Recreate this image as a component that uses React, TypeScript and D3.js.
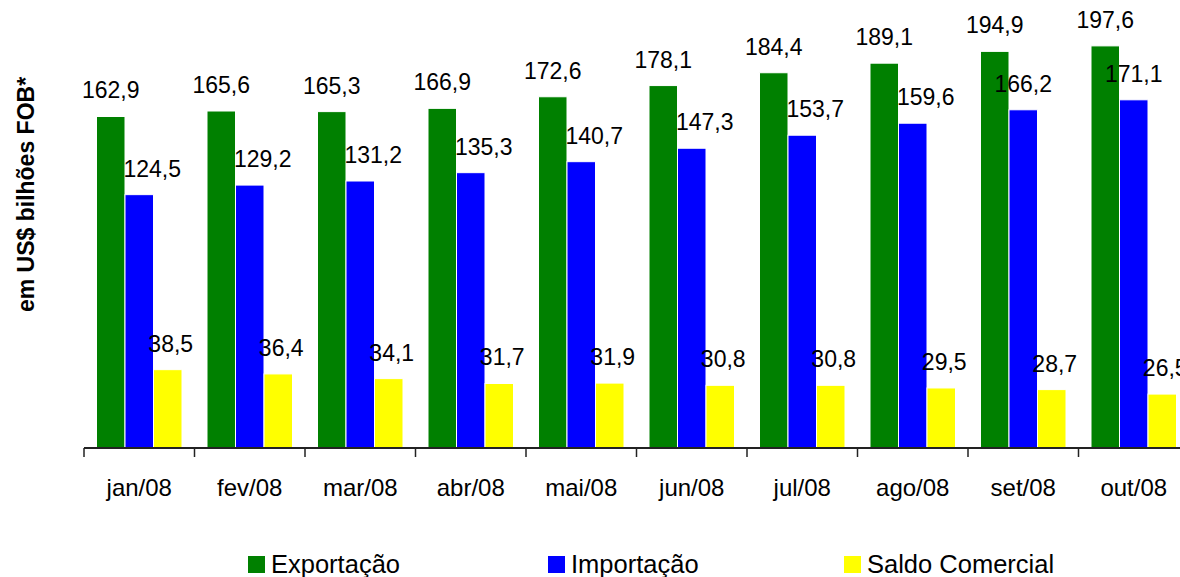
import { scaleBand, scaleLinear } from "d3";

const months = [
  "jan/08",
  "fev/08",
  "mar/08",
  "abr/08",
  "mai/08",
  "jun/08",
  "jul/08",
  "ago/08",
  "set/08",
  "out/08",
];
const exportacao = [162.9, 165.6, 165.3, 166.9, 172.6, 178.1, 184.4, 189.1, 194.9, 197.6];
const importacao = [124.5, 129.2, 131.2, 135.3, 140.7, 147.3, 153.7, 159.6, 166.2, 171.1];
const saldo = [38.5, 36.4, 34.1, 31.7, 31.9, 30.8, 30.8, 29.5, 28.7, 26.5];

const seriesNames = ["Exportação", "Importação", "Saldo Comercial"];
const seriesColors = ["#008000", "#0000FF", "#FFFF00"];

const width = 1180;
const height = 577;
const font = "'Liberation Sans', Arial, sans-serif";

// the original puts most Importação labels a bit to the right of their bar
const labelShift = (si: number, i: number) => {
  if (si === 1) return i < 8 ? 13 : 0;
  if (si === 2) return 3;
  return 0;
};

const App = () => {
  const baseY = 448;
  const step = 110.5;
  const x0 = 84;

  const x = scaleBand<string>()
    .domain(months)
    .range([x0, x0 + step * months.length])
    .paddingInner(0)
    .paddingOuter(0);

  const inner = scaleBand<number>()
    .domain([0, 1, 2])
    .range([12.5, step - 12.5]);

  const y = scaleLinear().domain([0, 200]).range([baseY, 41]);

  const series = [exportacao, importacao, saldo];

  const legendX = [248, 548, 844];

  return (
    <svg
      width={width}
      height={height}
      style={{ position: "absolute", left: 0, top: 0, background: "#fff" }}
      fontFamily={font}
    >
      {series.map((vals, si) => (
        <g key={si}>
          {vals.map((v, i) => {
            const bx = (x(months[i]) as number) + (inner(si) as number);
            return (
              <rect
                key={i}
                x={bx}
                y={y(v)}
                width={inner.bandwidth()}
                height={baseY - y(v)}
                fill={seriesColors[si]}
                stroke="#fff"
                strokeWidth={1}
              />
            );
          })}
        </g>
      ))}

      {series.map((vals, si) => (
        <g key={"l" + si}>
          {vals.map((v, i) => {
            const cx =
              (x(months[i]) as number) +
              (inner(si) as number) +
              inner.bandwidth() / 2 +
              labelShift(si, i);
            return (
              <text
                key={i}
                x={cx}
                y={y(v) - 18}
                textAnchor="middle"
                fontSize={23}
                fill="#000"
              >
                {v.toFixed(1).replace(".", ",")}
              </text>
            );
          })}
        </g>
      ))}

      <line x1={x0} x2={width + 20} y1={baseY} y2={baseY} stroke="#222" strokeWidth={2} />
      {months.map((m, i) => (
        <line
          key={"t" + i}
          x1={x(m) as number}
          x2={x(m) as number}
          y1={baseY}
          y2={baseY + 9}
          stroke="#222"
          strokeWidth={1.5}
        />
      ))}
      {months.map((m) => (
        <text
          key={"c" + m}
          x={(x(m) as number) + x.bandwidth() / 2}
          y={496}
          textAnchor="middle"
          fontSize={24}
          fill="#000"
        >
          {m}
        </text>
      ))}

      <text
        transform="translate(34,194.5) rotate(-90)"
        textAnchor="middle"
        fontSize={23}
        fontWeight="bold"
        fill="#000"
      >
        em US$ bilhões FOB*
      </text>

      {seriesNames.map((name, si) => (
        <g key={name} transform={`translate(${legendX[si]},556)`}>
          <rect width={17} height={17} fill={seriesColors[si]} />
          <text x={23} y={17} fontSize={25.5} fill="#000">
            {name}
          </text>
        </g>
      ))}
    </svg>
  );
};

export default App;
